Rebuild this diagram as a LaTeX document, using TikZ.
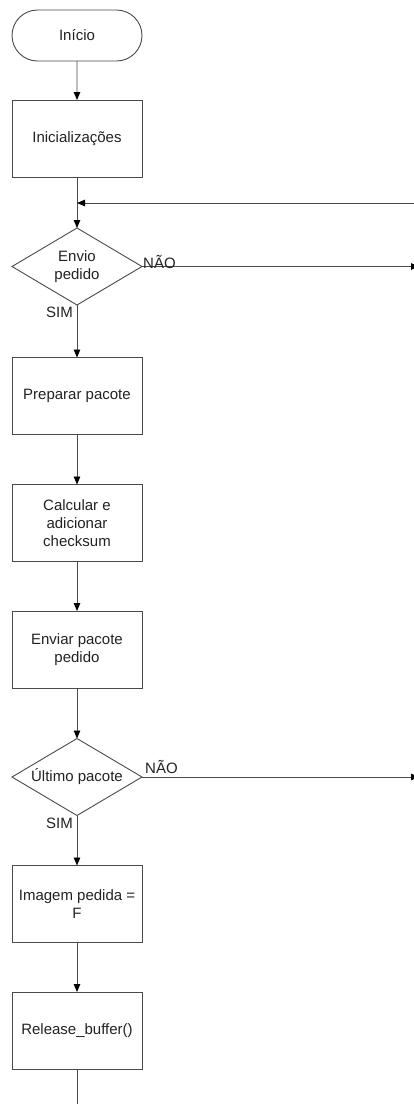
\documentclass[tikz,border=0pt]{standalone}
\usepackage{fontspec}
\setmainfont{Liberation Sans}
\usetikzlibrary{shapes.geometric,shapes.misc,arrows.meta}
\definecolor{linegray}{HTML}{4A4A4A}
\definecolor{txtgray}{HTML}{222222}
\begin{document}
\begin{tikzpicture}[x=1pt,y=-1pt,
  every node/.style={font=\fontsize{15}{18}\selectfont, text=txtgray},
  base/.style={draw=linegray, line width=0.9pt, outer sep=0pt, inner sep=0pt, align=center},
  terminal/.style={base, rounded rectangle, minimum width=130pt, minimum height=51pt},
  process/.style={base, rectangle, minimum width=130pt, minimum height=77pt},
  decision/.style={base, diamond, aspect=1.69, minimum width=130pt, minimum height=77pt},
  flow/.style={draw=linegray, line width=0.9pt, -{Triangle[length=8pt,width=6.5pt,color=black]}},
  plain/.style={draw=linegray, line width=0.9pt},
  answer/.style={inner sep=0pt}]
\useasboundingbox (0,0) rectangle (414,1104);

% blocks of the flow chart
\node[terminal] (inicio) at (77,35.5) {Início};
\node[process]  (init)   at (77,138.5) {Inicializações};
\node[decision] (envio)  at (77,266.5) {Envio\\pedido};
\node[process]  (prep)   at (77,396) {Preparar pacote};
\node[process]  (calc)   at (77,523) {Calcular e\\adicionar\\checksum};
\node[process]  (envp)   at (77,649.5) {Enviar pacote\\pedido};
\node[decision] (ultimo) at (77,777) {Último pacote};
\node[process]  (img)    at (77,904) {Imagem pedida =\\F};
\node[process]  (rel)    at (77,1030.5) {Release\_buffer()};

% free ends of the connectors
\coordinate (join)   at (77,203);
\coordinate (loopin) at (420,203);
\coordinate (out1)   at (419,266.5);
\coordinate (out2)   at (419,777);
\coordinate (bottom) at (77,1110);

% connectors
\draw[flow] (inicio) -- (init);
\draw[flow] (init) -- (envio);
\draw[flow] (loopin) -- (join);
\draw[flow] (envio.east) -- (out1);
\draw[flow] (envio) -- (prep);
\draw[flow] (prep) -- (calc);
\draw[flow] (calc) -- (envp);
\draw[flow] (envp) -- (ultimo);
\draw[flow] (ultimo.east) -- (out2);
\draw[flow] (ultimo) -- (img);
\draw[flow] (img) -- (rel);
\draw[plain] (rel) -- (bottom);

% branch labels
\node[answer, anchor=base west] (nao1) at (143,268) {NÃO};
\node[answer, anchor=base east] (sim1) at (73,317) {SIM};
\node[answer, anchor=base west] (nao2) at (145,773) {NÃO};
\node[answer, anchor=base east] (sim2) at (73,828) {SIM};
\end{tikzpicture}
\end{document}
